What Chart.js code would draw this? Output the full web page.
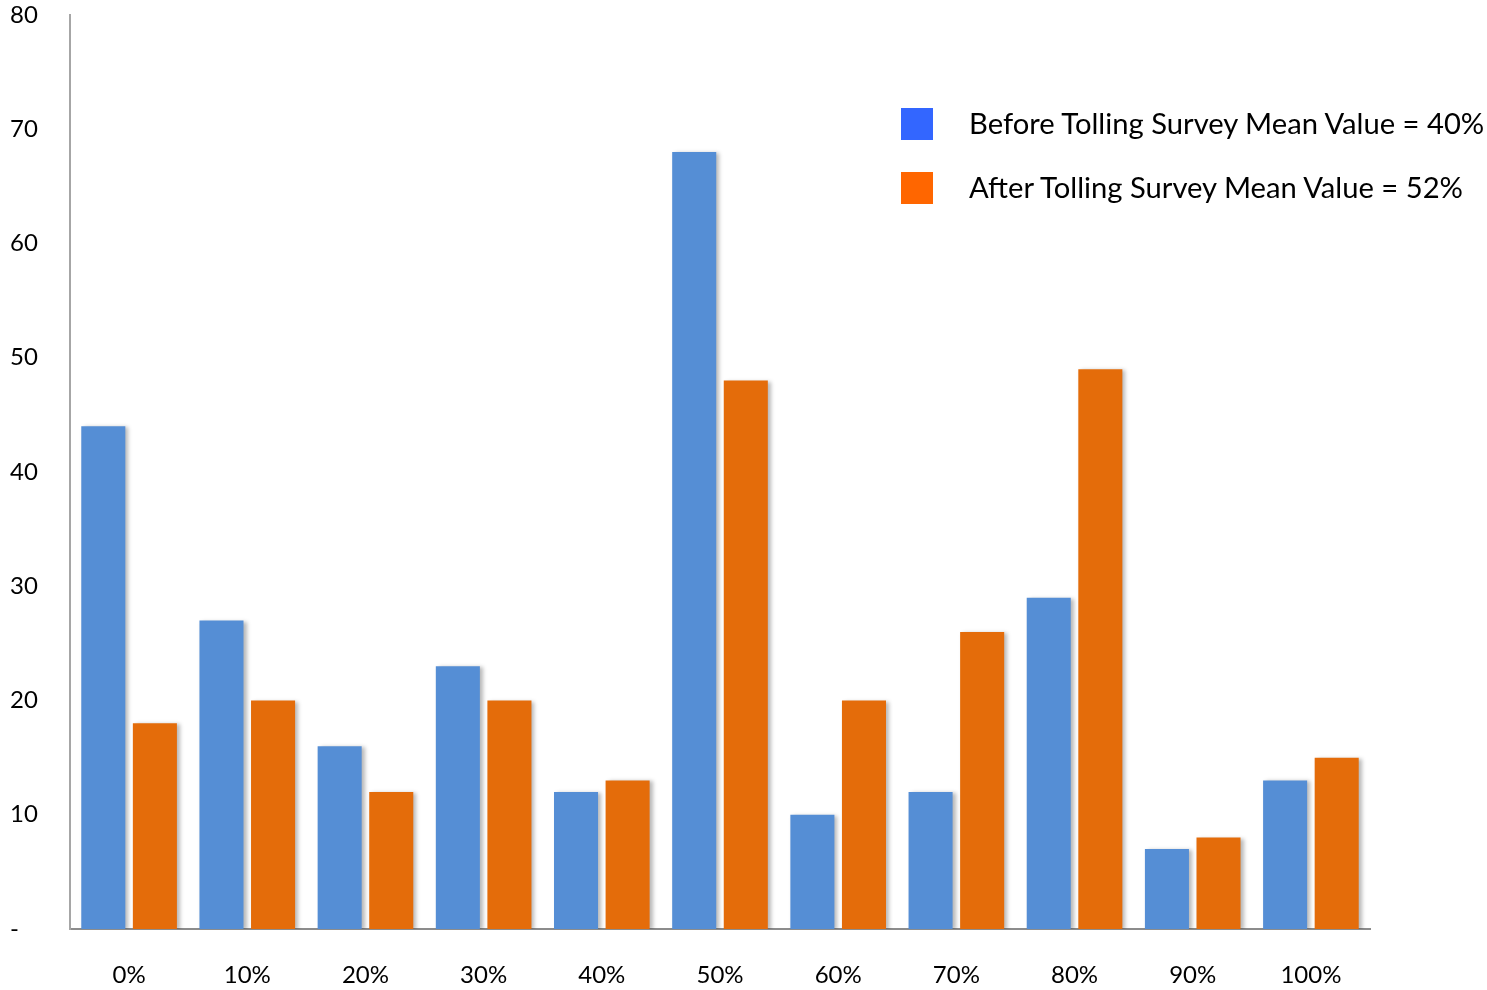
<!doctype html>
<html><head>
<script src="https://cdn.jsdelivr.net/npm/chart.js"></script>
<style type="text/css">
body { margin: 0; background: #fff; }
#holder { position: relative; width: 1487px; height: 990px; }
.key { position: absolute; left: 901px; font-family: Lato, "Open Sans", sans-serif; font-size: 29.2px; color: #000; }
.key span { position: absolute; width: 32px; height: 32px; left: 0; top: 0; }
.key div { position: absolute; left: 68px; top: 14px; transform: translateY(-50%); white-space: nowrap; }
</style>
</head>
<body>
<div id="holder">
    <canvas id="myChart" width="1487" height="990"></canvas>
</div>

<script type="text/javascript">
var categories = ['0%', '10%', '20%', '30%', '40%', '50%', '60%', '70%', '80%', '90%', '100%'];
var before = [44, 27, 16, 23, 12, 68, 10, 12, 29, 7, 13];
var after = [18, 20, 12, 20, 13, 48, 20, 26, 49, 8, 15];
var seriesNames = ['Before Tolling Survey Mean Value = 40%', 'After Tolling Survey Mean Value = 52%'];
var yTicks = [0, 10, 20, 30, 40, 50, 60, 70, 80];

var barColors = ['#558ed5', '#e46c0a'];
var keyColors = ['#3366ff', '#ff6600'];

// legend drawn as html on top of the canvas
var holder = document.getElementById('holder');
seriesNames.forEach(function(name, i) {
    var k = document.createElement('div');
    k.className = 'key';
    k.style.top = (108 + i * 64) + 'px';
    var box = document.createElement('span');
    box.style.background = keyColors[i];
    var txt = document.createElement('div');
    txt.innerText = name;
    k.appendChild(box);
    k.appendChild(txt);
    holder.appendChild(k);
});

// soft shadow to the right of bars
var barShadow = {
    id: 'barShadow',
    beforeDatasetsDraw: function(chart) {
        var ctx = chart.ctx;
        ctx.save();
        ctx.shadowColor = 'rgba(0,0,0,0.28)';
        ctx.shadowBlur = 4;
        ctx.shadowOffsetX = 3;
        ctx.shadowOffsetY = 1;
    },
    afterDatasetsDraw: function(chart) {
        chart.ctx.restore();
    }
};

var font = { family: 'Lato, "Open Sans", sans-serif', size: 24, lineHeight: 1 };

var myChart = new Chart(document.getElementById('myChart'), {
    type: 'bar',
    data: {
        labels: categories,
        datasets: [{
            label: seriesNames[0],
            data: before,
            backgroundColor: barColors[0]
        }, {
            label: seriesNames[1],
            data: after,
            backgroundColor: barColors[1]
        }]
    },
    options: {
        responsive: false,
        animation: false,
        categoryPercentage: 0.873,
        barPercentage: 0.854,
        layout: { padding: { left: 10, top: 13, right: 117, bottom: 0 } },
        plugins: {
            legend: { display: false },
            tooltip: { enabled: false }
        },
        scales: {
            x: {
                grid: { display: false, drawTicks: false },
                border: { color: '#8c8c8c', width: 2 },
                ticks: { color: '#000', font: font, padding: 34, maxRotation: 0 },
                afterFit: function(s) { s.height = 61; }
            },
            y: {
                min: 0,
                max: 80,
                grid: { display: false, drawTicks: false },
                border: { color: '#a6a6a6', width: 2 },
                afterBuildTicks: function(s) {
                    s.ticks = yTicks.map(function(v) { return { value: v }; });
                },
                ticks: {
                    color: '#000',
                    font: font,
                    crossAlign: 'far',
                    callback: function(v) { return v === 0 ? '-' : v; }
                },
                afterFit: function(s) { s.width = 60; }
            }
        }
    },
    plugins: [barShadow]
});
</script>
</body>
</html>
